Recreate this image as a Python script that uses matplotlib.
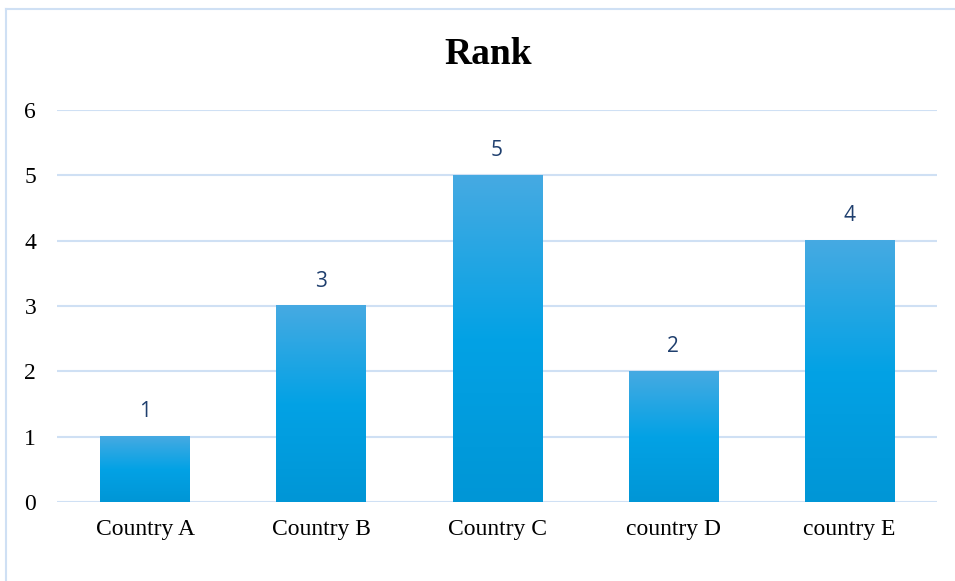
import numpy as np
import matplotlib.pyplot as plt
from matplotlib.colors import LinearSegmentedColormap
from matplotlib.lines import Line2D

# data
categories = ['Country A', 'Country B', 'Country C', 'country D', 'country E']
ranks = [1, 3, 5, 2, 4]
y_ticks = [0, 1, 2, 3, 4, 5, 6]

grid_col = '#CFE0F4'
label_col = '#1F3F6E'

fig = plt.figure(figsize=(9.55, 5.81), dpi=100)
ax = fig.add_axes([0.0597, 0.136, 0.9215, 0.6747])

# chart frame (top and left edges only visible)
fig.add_artist(Line2D([6/955, 6/955], [0, 1 - 9/581], transform=fig.transFigure,
                      color=grid_col, linewidth=1.5))
fig.add_artist(Line2D([6/955, 1], [1 - 9/581, 1 - 9/581], transform=fig.transFigure,
                      color=grid_col, linewidth=1.5))

x = np.arange(len(categories))
bars = ax.bar(x, ranks, width=0.506, color='none', zorder=3)

# vertical gradient fill for each bar
cmap = LinearSegmentedColormap.from_list('g', ['#0096D6', '#03A2E5', '#46AAE2'])
grad = np.linspace(0, 1, 256).reshape(-1, 1)
for b in bars:
    x0, w, h = b.get_x(), b.get_width(), b.get_height()
    ax.imshow(grad, cmap=cmap, origin='lower', aspect='auto',
              extent=[x0, x0 + w, 0, h], zorder=3)
    ax.text(x0 + w / 2, h + 0.22, str(int(h)), ha='center', va='bottom',
            fontsize=15, color=label_col, family='Open Sans')

ax.set_xlim(-0.5, len(categories) - 0.5)
ax.set_ylim(0, 6)
ax.set_yticks(y_ticks)
ax.set_xticks(x)
ax.set_xticklabels(categories, family='Liberation Serif', fontsize=17)
ax.set_yticklabels([str(t) for t in y_ticks], family='Liberation Serif', fontsize=17)
ax.tick_params(axis='both', length=0)
ax.tick_params(axis='y', pad=15)
ax.tick_params(axis='x', pad=12)

ax.grid(axis='y', color=grid_col, linewidth=1.5, zorder=0)
ax.set_axisbelow(True)
for s in ax.spines.values():
    s.set_visible(False)

fig.text(0.511, 1 - 54/581, 'Rank', ha='center', va='center',
         family='Liberation Serif', fontsize=27, fontweight='bold')

fig.savefig('out.png', dpi=100)
